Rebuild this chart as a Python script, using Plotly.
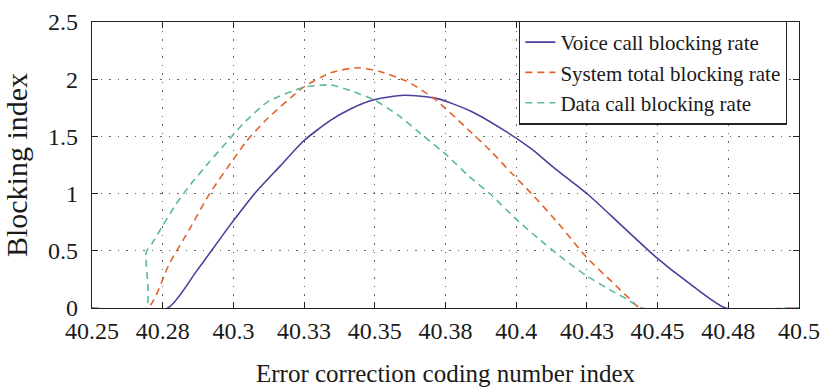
import plotly.graph_objects as go

# ---- data ----
voice_x = [40.25, 40.2768, 40.2869, 40.2987, 40.3082, 40.3165, 40.3248, 40.3343, 40.3414, 40.3497,
           40.3603, 40.3722, 40.384, 40.3959, 40.4054, 40.4136, 40.4255, 40.4373, 40.4492, 40.461,
           40.4741, 40.5]
voice_y = [0, 0, 0.32, 0.72, 1.02, 1.24, 1.46, 1.64, 1.74, 1.82,
           1.86, 1.83, 1.72, 1.55, 1.39, 1.22, 0.99, 0.72, 0.45, 0.22,
           0, 0]

system_x = [40.25, 40.2697, 40.2774, 40.2845, 40.2916, 40.300, 40.3047, 40.3118, 40.3248, 40.3343,
            40.3437, 40.352, 40.3615, 40.371, 40.3817, 40.3911, 40.3983, 40.4054, 40.4149, 40.425,
            40.4338, 40.4397, 40.4439, 40.5]
system_y = [0, 0, 0.39, 0.69, 1.00, 1.30, 1.46, 1.65, 1.93, 2.055,
            2.10, 2.065, 1.98, 1.83, 1.59, 1.37, 1.18, 1.00, 0.74, 0.44,
            0.23, 0.09, 0, 0]

data_x = [40.25, 40.2691, 40.2692, 40.2714, 40.275, 40.2798, 40.2845, 40.2916, 40.2987, 40.3034,
          40.312, 40.325, 40.3343, 40.3414, 40.3497, 40.358, 40.3674, 40.3757, 40.3829, 40.3911,
          40.3994, 40.4077, 40.4172, 40.425, 40.4338, 40.4397, 40.4444, 40.5]
data_y = [0, 0, 0.49, 0.57, 0.72, 0.91, 1.07, 1.28, 1.48, 1.61,
          1.80, 1.93, 1.95, 1.90, 1.82, 1.69, 1.50, 1.33, 1.16, 0.99,
          0.79, 0.61, 0.42, 0.28, 0.15, 0.07, 0, 0]

x_tickvals = [40.25, 40.275, 40.3, 40.325, 40.35, 40.375, 40.4, 40.425, 40.45, 40.475, 40.5]
x_ticktext = ["40.25", "40.28", "40.3", "40.33", "40.35", "40.38", "40.4", "40.43", "40.45", "40.48", "40.5"]
y_tickvals = [0, 0.5, 1, 1.5, 2, 2.5]
y_ticktext = ["0", "0.5", "1", "1.5", "2", "2.5"]

names = ["Voice call blocking rate", "System total blocking rate", "Data call blocking rate"]
colors = ["#4A3F9B", "#E2622B", "#5CB99A"]

fig = go.Figure()
fig.add_trace(go.Scatter(x=voice_x, y=voice_y, mode="lines", name=names[0],
                         line=dict(color=colors[0], width=1.6, shape="spline", smoothing=0.6)))
fig.add_trace(go.Scatter(x=system_x, y=system_y, mode="lines", name=names[1],
                         line=dict(color=colors[1], width=1.6, dash="7px,5px", shape="spline", smoothing=0.6)))
fig.add_trace(go.Scatter(x=data_x, y=data_y, mode="lines", name=names[2],
                         line=dict(color=colors[2], width=1.6, dash="7px,5px", shape="spline", smoothing=0.6)))

font_family = "Liberation Serif, Times New Roman, serif"
text_color = "#1a1a1a"
axis_common = dict(
    showline=True, linecolor="#222222", linewidth=1.4, mirror="ticks",
    ticks="inside", ticklen=6, tickcolor="#222222", tickwidth=1.4,
    showgrid=True, gridcolor="#666666", gridwidth=1, griddash="1.5px,7px",
    zeroline=False, tickfont=dict(family=font_family, size=24, color=text_color),
    ticklabeloverflow="allow", layer="below traces", automargin=False,
)

fig.update_xaxes(range=[40.25, 40.5], tickmode="array", tickvals=x_tickvals, ticktext=x_ticktext,
                 ticklabelstandoff=1,
                 title=dict(text="Error correction coding number index",
                            font=dict(family=font_family, size=25, color=text_color), standoff=21),
                 **axis_common)
fig.update_yaxes(range=[0, 2.5], tickmode="array", tickvals=y_tickvals, ticktext=y_ticktext,
                 ticklabelstandoff=8,
                 title=dict(text="Blocking index",
                            font=dict(family=font_family, size=30, color=text_color), standoff=16),
                 **axis_common)

fig.update_layout(
    width=823, height=390,
    margin=dict(l=92, r=24, t=22, b=82),
    plot_bgcolor="white", paper_bgcolor="white",
    showlegend=True,
    legend=dict(x=0.983, y=1.005, xanchor="right", yanchor="top",
                bordercolor="#222222", borderwidth=1.4, bgcolor="white",
                font=dict(family=font_family, size=21, color=text_color),
                tracegroupgap=0),
)

# remove the browser's default 8px body margin so the 823x390 figure fills the window exactly
fig.write_html("out.html", config={"displayModeBar": False},
               post_script="document.body.style.margin='0';document.body.style.overflow='hidden';")
